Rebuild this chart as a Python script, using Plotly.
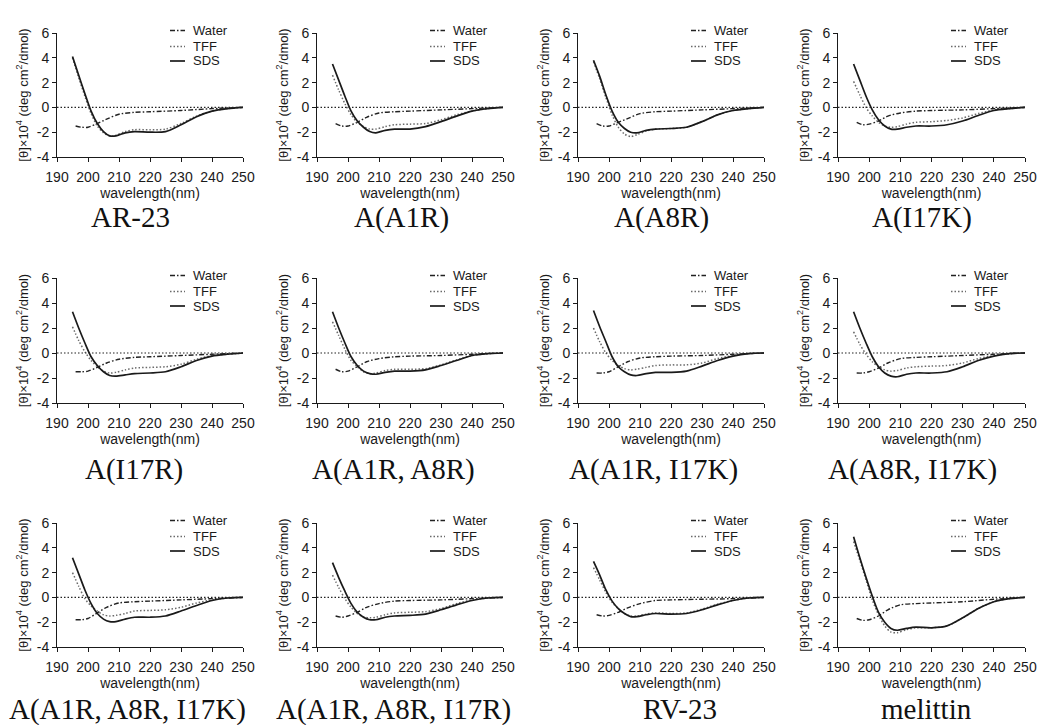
import plotly.graph_objects as go

# ---------------- data ----------------
WL = [195, 197, 199, 201, 203, 205, 207, 209, 212, 215, 220, 225, 230, 235, 240, 245, 250]
WL_WATER = [196, 198, 200, 203, 206, 210, 215, 220, 230, 240, 250]

PANELS = ["AR-23", "A(A1R)", "A(A8R)", "A(I17K)",
          "A(I17R)", "A(A1R, A8R)", "A(A1R, I17K)", "A(A8R, I17K)",
          "A(A1R, A8R, I17K)", "A(A1R, A8R, I17R)", "RV-23", "melittin"]

AR23_SDS = [4.1, 2.6, 1.1, -0.3, -1.3, -1.95, -2.3, -2.3, -2.05, -1.95, -2.0, -1.95, -1.4, -0.75, -0.3, -0.1, 0.0]
AR23_TFF = [4.0, 2.4, 0.9, -0.5, -1.5, -2.05, -2.3, -2.25, -1.95, -1.8, -1.8, -1.75, -1.3, -0.7, -0.3, -0.1, 0.0]
AR23_WATER = [-1.5, -1.6, -1.6, -1.3, -0.95, -0.55, -0.4, -0.35, -0.25, -0.1, 0.0]

A1R_SDS = [3.5, 2.2, 0.9, -0.3, -1.1, -1.6, -1.95, -2.05, -1.85, -1.75, -1.75, -1.55, -1.15, -0.7, -0.3, -0.1, 0.0]
A1R_TFF = [2.6, 1.4, 0.3, -0.6, -1.2, -1.55, -1.75, -1.75, -1.55, -1.4, -1.35, -1.3, -1.0, -0.6, -0.3, -0.1, 0.0]
A1R_WATER = [-1.3, -1.5, -1.5, -1.2, -0.8, -0.45, -0.35, -0.3, -0.2, -0.1, 0.0]

A8R_SDS = [3.8, 2.5, 1.0, -0.3, -1.2, -1.7, -2.0, -2.05, -1.85, -1.75, -1.7, -1.6, -1.15, -0.6, -0.25, -0.1, 0.0]
A8R_TFF = [3.7, 2.3, 0.8, -0.6, -1.6, -2.15, -2.35, -2.2, -1.9, -1.75, -1.7, -1.6, -1.15, -0.6, -0.25, -0.1, 0.0]
A8R_WATER = [-1.3, -1.5, -1.5, -1.2, -0.9, -0.5, -0.35, -0.3, -0.2, -0.1, 0.0]

I17K_SDS = [3.5, 2.2, 0.9, -0.2, -1.0, -1.5, -1.75, -1.75, -1.6, -1.5, -1.5, -1.4, -1.1, -0.65, -0.25, -0.1, 0.0]
I17K_TFF = [2.1, 1.0, 0.0, -0.7, -1.2, -1.5, -1.6, -1.55, -1.35, -1.2, -1.15, -1.05, -0.85, -0.5, -0.2, -0.1, 0.0]
I17K_WATER = [-1.2, -1.4, -1.35, -1.1, -0.7, -0.45, -0.3, -0.25, -0.2, -0.1, 0.0]

I17R_SDS = [3.3, 2.0, 0.8, -0.3, -1.0, -1.5, -1.8, -1.85, -1.75, -1.65, -1.6, -1.5, -1.1, -0.6, -0.25, -0.1, 0.0]
I17R_TFF = [2.1, 1.0, 0.1, -0.6, -1.1, -1.45, -1.6, -1.55, -1.35, -1.2, -1.15, -1.1, -0.9, -0.5, -0.2, -0.1, 0.0]
I17R_WATER = [-1.5, -1.5, -1.45, -1.15, -0.8, -0.5, -0.35, -0.3, -0.2, -0.1, 0.0]

A1R_A8R_SDS = [3.3, 2.0, 0.8, -0.3, -1.0, -1.45, -1.65, -1.7, -1.55, -1.45, -1.45, -1.35, -1.0, -0.6, -0.2, -0.05, 0.0]
A1R_A8R_TFF = [2.5, 1.4, 0.3, -0.6, -1.1, -1.5, -1.65, -1.6, -1.4, -1.3, -1.3, -1.25, -0.95, -0.55, -0.2, -0.05, 0.0]
A1R_A8R_WATER = [-1.3, -1.5, -1.45, -1.1, -0.7, -0.45, -0.3, -0.25, -0.2, -0.1, 0.0]

A1R_I17K_SDS = [3.4, 2.1, 0.9, -0.3, -1.1, -1.5, -1.75, -1.8, -1.65, -1.55, -1.55, -1.45, -1.05, -0.6, -0.25, -0.05, 0.0]
A1R_I17K_TFF = [2.0, 0.9, 0.0, -0.6, -1.0, -1.25, -1.35, -1.3, -1.15, -1.0, -0.95, -0.95, -0.8, -0.45, -0.2, -0.05, 0.0]
A1R_I17K_WATER = [-1.6, -1.6, -1.5, -1.1, -0.7, -0.4, -0.3, -0.25, -0.2, -0.1, 0.0]

A8R_I17K_SDS = [3.3, 2.0, 0.8, -0.3, -1.1, -1.6, -1.85, -1.9, -1.7, -1.6, -1.6, -1.5, -1.1, -0.6, -0.25, -0.05, 0.0]
A8R_I17K_TFF = [1.7, 0.7, -0.1, -0.7, -1.1, -1.35, -1.45, -1.4, -1.2, -1.1, -1.05, -1.0, -0.8, -0.45, -0.2, -0.05, 0.0]
A8R_I17K_WATER = [-1.6, -1.6, -1.5, -1.2, -0.8, -0.45, -0.35, -0.3, -0.2, -0.1, 0.0]

A1R_A8R_I17K_SDS = [3.2, 1.9, 0.6, -0.5, -1.3, -1.75, -1.95, -1.95, -1.75, -1.6, -1.6, -1.5, -1.1, -0.65, -0.25, -0.05, 0.0]
A1R_A8R_I17K_TFF = [2.0, 0.9, -0.1, -0.7, -1.1, -1.4, -1.5, -1.45, -1.3, -1.1, -1.05, -1.0, -0.8, -0.45, -0.2, -0.05, 0.0]
A1R_A8R_I17K_WATER = [-1.8, -1.8, -1.7, -1.25, -0.8, -0.45, -0.35, -0.3, -0.2, -0.1, 0.0]

A1R_A8R_I17R_SDS = [2.8, 1.6, 0.5, -0.5, -1.2, -1.6, -1.8, -1.8, -1.6, -1.5, -1.45, -1.35, -1.0, -0.6, -0.25, -0.05, 0.0]
A1R_A8R_I17R_TFF = [1.8, 0.8, -0.1, -0.8, -1.3, -1.55, -1.65, -1.6, -1.4, -1.25, -1.2, -1.15, -0.9, -0.5, -0.2, -0.05, 0.0]
A1R_A8R_I17R_WATER = [-1.5, -1.6, -1.5, -1.2, -0.8, -0.5, -0.3, -0.25, -0.2, -0.1, 0.0]

RV23_SDS = [2.9, 1.8, 0.6, -0.3, -0.9, -1.3, -1.55, -1.55, -1.4, -1.3, -1.35, -1.3, -1.0, -0.6, -0.25, -0.05, 0.0]
RV23_TFF = [2.4, 1.4, 0.4, -0.4, -0.9, -1.3, -1.5, -1.5, -1.35, -1.25, -1.3, -1.25, -0.95, -0.55, -0.25, -0.05, 0.0]
RV23_WATER = [-1.4, -1.5, -1.45, -1.2, -0.85, -0.5, -0.25, -0.2, -0.15, -0.1, 0.0]

MEL_SDS = [4.9, 3.2, 1.6, 0.1, -1.2, -2.0, -2.5, -2.65, -2.5, -2.4, -2.45, -2.3, -1.65, -0.9, -0.35, -0.1, 0.0]
MEL_TFF = [4.5, 3.0, 1.4, -0.2, -1.4, -2.3, -2.8, -2.85, -2.6, -2.45, -2.45, -2.3, -1.65, -0.9, -0.35, -0.1, 0.0]
MEL_WATER = [-1.7, -1.85, -1.8, -1.5, -1.0, -0.6, -0.5, -0.45, -0.35, -0.15, 0.0]

SDS = [AR23_SDS, A1R_SDS, A8R_SDS, I17K_SDS, I17R_SDS, A1R_A8R_SDS, A1R_I17K_SDS,
       A8R_I17K_SDS, A1R_A8R_I17K_SDS, A1R_A8R_I17R_SDS, RV23_SDS, MEL_SDS]
TFF = [AR23_TFF, A1R_TFF, A8R_TFF, I17K_TFF, I17R_TFF, A1R_A8R_TFF, A1R_I17K_TFF,
       A8R_I17K_TFF, A1R_A8R_I17K_TFF, A1R_A8R_I17R_TFF, RV23_TFF, MEL_TFF]
WATER = [AR23_WATER, A1R_WATER, A8R_WATER, I17K_WATER, I17R_WATER, A1R_A8R_WATER, A1R_I17K_WATER,
         A8R_I17K_WATER, A1R_A8R_I17K_WATER, A1R_A8R_I17R_WATER, RV23_WATER, MEL_WATER]

X_TICKS = [190, 200, 210, 220, 230, 240, 250]
Y_TICKS = [-4, -2, 0, 2, 4, 6]
Y_TICK_TEXT = ["-4", "-2", "0", "2", "4", "6"]
LEGEND_NAMES = ["Water", "TFF", "SDS"]

# ---------------- layout geometry (pixels) ----------------
W, H = 1043, 725
COL_X = [(57, 243), (317, 503), (578, 764), (838, 1025)]
ROW_Y = [(33, 157), (278, 403), (523, 647)]
TITLE_X = [130, 401, 661, 922, 134, 393, 653, 912, 127, 393, 680, 926]
TITLE_Y = [217, 469, 709]

SANS = "Arial, Liberation Sans, sans-serif"
SERIF = "Times New Roman, Liberation Serif, serif"
INK = "#1a1a1a"

STYLES = {
    "Water": dict(color="#222222", width=1.4, dash="5px,2px,1.5px,2px"),
    "TFF": dict(color="#6a6a6a", width=1.5, dash="1.5px,2px"),
    "SDS": dict(color="#1a1a1a", width=1.7, dash="solid"),
}


def px_x(p):
    return p / W


def px_y(p):
    return 1 - p / H


fig = go.Figure()
layout = dict(width=W, height=H, margin=dict(l=0, r=0, t=0, b=0, pad=0, autoexpand=False),
              paper_bgcolor="white", plot_bgcolor="white", showlegend=False,
              font=dict(family=SANS, color=INK))
annotations = []
shapes = []

for i, name in enumerate(PANELS):
    r, c = divmod(i, 4)
    k = i + 1
    xa = "x" if k == 1 else f"x{k}"
    ya = "y" if k == 1 else f"y{k}"
    x0, x1 = COL_X[c]
    y0, y1 = ROW_Y[r]

    fig.add_trace(go.Scatter(x=WL_WATER, y=WATER[i], mode="lines", name="Water",
                             line=dict(shape="spline", smoothing=0.8, **STYLES["Water"]),
                             xaxis=xa, yaxis=ya))
    fig.add_trace(go.Scatter(x=WL, y=TFF[i], mode="lines", name="TFF",
                             line=dict(shape="spline", smoothing=0.8, **STYLES["TFF"]),
                             xaxis=xa, yaxis=ya))
    fig.add_trace(go.Scatter(x=WL, y=SDS[i], mode="lines", name="SDS",
                             line=dict(shape="spline", smoothing=0.8, **STYLES["SDS"]),
                             xaxis=xa, yaxis=ya))

    axkey = "xaxis" if k == 1 else f"xaxis{k}"
    aykey = "yaxis" if k == 1 else f"yaxis{k}"
    layout[axkey] = dict(
        domain=[px_x(x0), px_x(x1)], anchor=ya, range=[190, 250], automargin=False,
        tickvals=X_TICKS, ticks="outside", ticklen=4, tickwidth=1, tickcolor=INK,
        ticklabelstandoff=3,
        showline=True, linecolor=INK, linewidth=1, showgrid=False, zeroline=False,
        tickfont=dict(size=14, family=SANS, color=INK),
        title=dict(text="wavelength(nm)", font=dict(size=14, family=SANS, color=INK), standoff=3),
        fixedrange=True,
    )
    layout[aykey] = dict(
        domain=[px_y(y1), px_y(y0)], anchor=xa, range=[-4, 6], automargin=False,
        tickvals=Y_TICKS, ticktext=Y_TICK_TEXT, ticks="outside", ticklen=4, tickwidth=1,
        tickcolor=INK, showline=True, linecolor=INK, linewidth=1, showgrid=False,
        zeroline=False, tickfont=dict(size=14, family=SANS, color=INK),
        title=dict(text="[θ]×10<sup>4</sup> (deg cm<sup>2</sup>/dmol)",
                   font=dict(size=13, family=SANS, color=INK), standoff=5),
        fixedrange=True,
    )

    # dotted zero baseline
    shapes.append(dict(type="line", xref=f"{xa} domain", yref=ya, x0=0, x1=1, y0=0, y1=0,
                       line=dict(color="#222222", width=1.2, dash="1.5px,2px")))

    # panel title
    annotations.append(dict(text=name, xref="paper", yref="paper",
                            x=px_x(TITLE_X[i]), y=px_y(TITLE_Y[r]),
                            xanchor="center", yanchor="middle", showarrow=False,
                            font=dict(family=SERIF, size=29, color="#111111")))

    # legend (per panel)
    for j, lname in enumerate(LEGEND_NAMES):
        ly = y0 + [-2.5, 13.5, 28][j]
        st = STYLES[lname]
        shapes.append(dict(type="line", xref="paper", yref="paper",
                           x0=px_x(x0 + 113), x1=px_x(x0 + 128), y0=px_y(ly), y1=px_y(ly),
                           line=dict(color=st["color"], width=st["width"], dash=st["dash"])))
        annotations.append(dict(text=lname, xref="paper", yref="paper",
                                x=px_x(x0 + 134), y=px_y(ly), xanchor="left", yanchor="middle",
                                showarrow=False, font=dict(family=SANS, size=13, color=INK)))

layout["annotations"] = annotations
layout["shapes"] = shapes
fig.update_layout(**layout)
fig.write_html("out.html", config={"displayModeBar": False},
               post_script="document.body.style.margin='0px';document.body.style.overflow='hidden';")
